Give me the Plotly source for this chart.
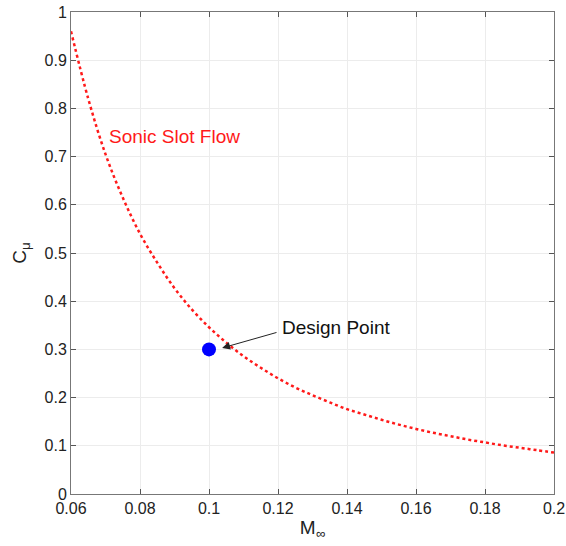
import plotly.graph_objects as go

mach = [0.060, 0.065, 0.070, 0.075, 0.080, 0.085, 0.090, 0.095, 0.100, 0.105,
        0.110, 0.115, 0.120, 0.125, 0.130, 0.135, 0.140, 0.145, 0.150, 0.155,
        0.160, 0.165, 0.170, 0.175, 0.180, 0.185, 0.190, 0.195, 0.200]
cmu = [0.96, 0.82, 0.705, 0.615, 0.54, 0.48, 0.427, 0.383, 0.346, 0.314,
       0.286, 0.262, 0.240, 0.221, 0.205, 0.190, 0.176, 0.165, 0.154, 0.144,
       0.135, 0.127, 0.120, 0.113, 0.107, 0.101, 0.096, 0.091, 0.086]
design_m = [0.1]
design_c = [0.3]
x_ticks = [0.06, 0.08, 0.1, 0.12, 0.14, 0.16, 0.18, 0.2]
x_labels = ["0.06", "0.08", "0.1", "0.12", "0.14", "0.16", "0.18", "0.2"]
y_ticks = [0, 0.1, 0.2, 0.3, 0.4, 0.5, 0.6, 0.7, 0.8, 0.9, 1]
y_labels = ["0", "0.1", "0.2", "0.3", "0.4", "0.5", "0.6", "0.7", "0.8", "0.9", "1"]

fam = "Liberation Sans, Arial, sans-serif"
font = dict(family=fam, size=16, color="#222")
tfont = dict(family=fam, size=19, color="#222")

fig = go.Figure()
fig.add_trace(go.Scatter(x=mach, y=cmu, mode="lines", line=dict(color="#ff1a1a", width=2.5, dash="dot", shape="spline"), showlegend=False))
fig.add_trace(go.Scatter(x=design_m, y=design_c, mode="markers", marker=dict(color="#0000ff", size=14), showlegend=False))

axis_common = dict(showgrid=True, gridcolor="#ececec", gridwidth=1, showline=True, linecolor="#777", linewidth=1,
                   mirror="ticks", ticks="inside", ticklen=5, tickcolor="#555", zeroline=False, tickfont=font,
                   automargin=False, ticklabeloverflow="allow")
fig.update_xaxes(range=[0.06, 0.2], tickvals=x_ticks, ticktext=x_labels,
                 title=dict(text="M<sub>∞</sub>", font=tfont, standoff=4), **axis_common)
fig.update_yaxes(range=[0, 1], tickvals=y_ticks, ticktext=y_labels,
                 title=dict(text="C<sub>μ</sub>", font=tfont, standoff=12), **axis_common)

fig.add_annotation(x=0.0704, y=0.741, text="Sonic Slot Flow", showarrow=False, xanchor="left", yanchor="middle",
                   font=dict(family=fam, size=19, color="#ff1a1a"))
fig.add_annotation(x=0.1206, y=0.346, text="Design Point", showarrow=False, xanchor="left", yanchor="middle",
                   font=dict(family=fam, size=19, color="#111"))
fig.add_annotation(x=0.1038, y=0.303, ax=0.1200, ay=0.336, axref="x", ayref="y", xref="x", yref="y", text="",
                   showarrow=True, arrowhead=2, arrowsize=1.6, arrowwidth=1, arrowcolor="#222")

fig.update_layout(width=566, height=546, margin=dict(l=71, r=12, t=12, b=52, autoexpand=False),
                  plot_bgcolor="white", paper_bgcolor="white")
fig.write_html("out.html", config={"displayModeBar": False},
               post_script="document.body.style.margin='0';")
